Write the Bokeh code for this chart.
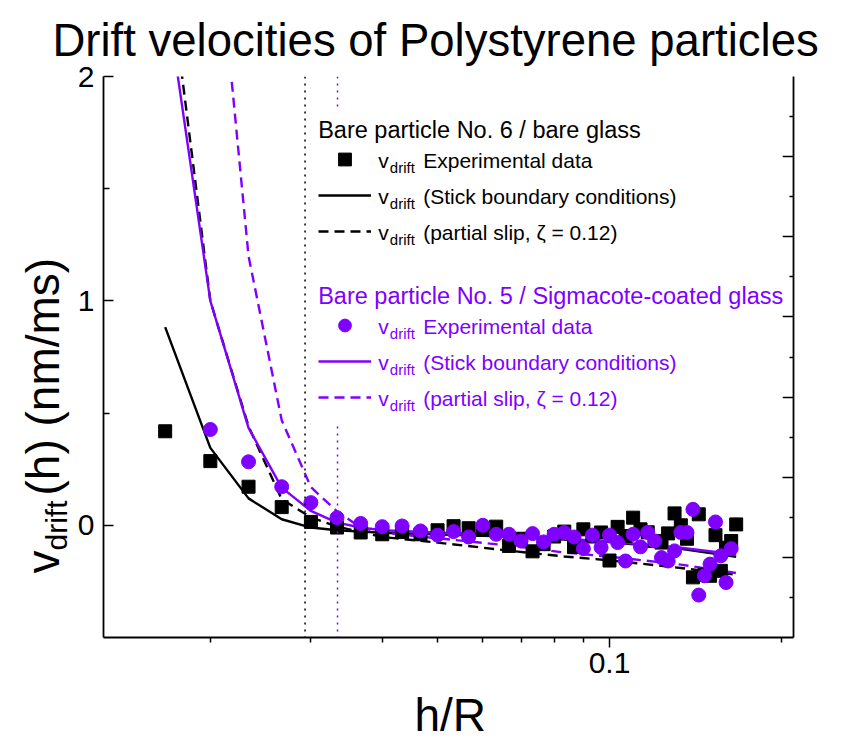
from math import pi, log10
from bokeh.plotting import figure
from bokeh.layouts import column, row
from bokeh.models import (Range1d, LinearAxis, FixedTicker, PrintfTickFormatter, Label,
                          Legend, LegendItem, BoxAnnotation, Span)
from bokeh.embed import file_html
from bokeh.resources import INLINE

FONT = "Liberation Sans"
BLACK = "#000000"
PURPLE = "#8000ff"

# ---------------- data (h/R, drift velocity in nm/ms) ----------------
# Bare particle No. 6 / bare glass : experimental
h_black = [0.01667, 0.02000, 0.02333, 0.02667, 0.03000, 0.03333, 0.03667, 0.04000,
           0.04333, 0.04667, 0.05000, 0.05333, 0.05667, 0.06000, 0.06333, 0.06667,
           0.07000, 0.07333, 0.07667, 0.08000, 0.08333, 0.08667, 0.09000, 0.09333,
           0.09667, 0.10000, 0.10333, 0.10667, 0.11000, 0.11333, 0.11667, 0.12000,
           0.12333, 0.12667, 0.13000, 0.13333, 0.13667, 0.14000, 0.14333, 0.14667,
           0.15000, 0.15333, 0.15667, 0.16000, 0.16333, 0.16667]
v_black = [0.419, 0.286, 0.172, 0.081, 0.015, -0.010, -0.032, -0.040,
           -0.030, -0.040, -0.022, -0.004, -0.013, -0.020, -0.006, -0.092,
           -0.060, -0.116, -0.084, -0.050, -0.028, -0.096, -0.018, -0.050,
           -0.032, -0.157, -0.007, -0.048, 0.034, -0.018, -0.031, -0.070,
           -0.077, -0.036, 0.053, 0.000, -0.060, -0.232, 0.049, -0.220,
           -0.225, -0.044, -0.203, -0.100, -0.070, 0.004]

# Bare particle No. 5 / Sigmacote-coated glass : experimental
h_purple = [0.02000, 0.02333, 0.02667, 0.03000, 0.03333, 0.03667, 0.04000,
            0.04333, 0.04667, 0.05000, 0.05333, 0.05667, 0.06000, 0.06333, 0.06667,
            0.07000, 0.07333, 0.07667, 0.08000, 0.08333, 0.08667, 0.09000, 0.09333,
            0.09667, 0.10000, 0.10333, 0.10667, 0.11000, 0.11333, 0.11667, 0.12000,
            0.12333, 0.12667, 0.13000, 0.13333, 0.13667, 0.14000, 0.14333, 0.14667,
            0.15000, 0.15333, 0.15667, 0.16000, 0.16333]
v_purple = [0.427, 0.283, 0.172, 0.101, 0.034, 0.008, -0.006,
            -0.003, -0.025, -0.044, -0.028, -0.052, 0.000, -0.040, -0.040,
            -0.070, -0.037, -0.074, -0.040, -0.032, -0.052, -0.104, -0.044,
            -0.099, -0.044, -0.077, -0.159, -0.040, -0.096, -0.032, -0.070,
            -0.144, -0.159, -0.114, -0.032, -0.032, 0.071, -0.311, -0.225,
            -0.173, 0.015, -0.136, -0.255, -0.104]

# theory: stick boundary conditions
stick_h_black = [0.01667, 0.02000, 0.02333, 0.02667, 0.03000, 0.03333, 0.03667, 0.04000,
                 0.06667, 0.10000, 0.13333, 0.16667]
stick_v_black = [0.883, 0.345, 0.120, 0.027, -0.010, -0.022, -0.028, -0.033,
                 -0.050, -0.075, -0.105, -0.140]
stick_h_purple = [0.01667, 0.02000, 0.02333, 0.02667, 0.03000, 0.03333, 0.03667, 0.04000,
                  0.06667, 0.10000, 0.13333, 0.16667]
stick_v_purple = [2.390, 1.000, 0.434, 0.168, 0.064, 0.012, -0.010, -0.022,
                  -0.045, -0.072, -0.100, -0.130]

# theory: partial slip, zeta = 0.12
slip_h_black = [0.01667, 0.02000, 0.02333, 0.02667, 0.03000, 0.03333, 0.03667, 0.04000,
                0.05000, 0.06667, 0.08333, 0.10000, 0.13333, 0.16667]
slip_v_black = [2.600, 1.000, 0.441, 0.116, 0.035, -0.005, -0.030, -0.052,
                -0.077, -0.113, -0.139, -0.156, -0.190, -0.220]
slip_h_purple = [0.02000, 0.02333, 0.02667, 0.03000, 0.03333, 0.03667, 0.04000,
                 0.05000, 0.06667, 0.08333, 0.10000, 0.13333, 0.16667]
slip_v_purple = [2.970, 1.200, 0.468, 0.170, 0.062, -0.010, -0.032,
                 -0.058, -0.090, -0.121, -0.140, -0.175, -0.213]

# vertical dotted reference lines
limit_black = 0.0293
limit_purple = 0.0334

x_major = [0.1]
x_minor = [0.02, 0.03, 0.04, 0.05, 0.06, 0.07, 0.08, 0.09, 0.2]
y_major = [0, 1, 2]
y_minor = [0.5, 1.5]
# mirror axes (ticks only): top = log axis 0.639..6.41, right = linear 0..14
top_range = (0.639, 6.41)
top_ticks = [1, 2, 3, 4, 5, 6]
right_range = (0, 14)
right_major = [2, 4, 6, 8, 10, 12]
right_minor = [1, 3, 5, 7, 9, 11, 13]

TITLE = "Drift velocities of Polystyrene particles"
XLABEL = "h/R"

# ---------------- layout (canvas pixels) ----------------
W, H = 849, 738
TOP_H = 66          # title strip (full width)
LEFT_W = 74         # y-label strip
BOT_H = 52          # x-label strip (full width)
FL, FR, FT, FB = 102, 793, 76, 637   # frame edges on the canvas

MAIN_W = W - LEFT_W
MAIN_H = H - TOP_H - BOT_H
BASE_SHIFT = 0.3    # correction of Bokeh's alphabetic baseline placement (in em)


def blank(w, h):
    f = figure(width=w, height=h, x_range=Range1d(0, 1), y_range=Range1d(0, 1),
               toolbar_location=None, output_backend="svg", min_border=0,
               x_axis_location=None, y_axis_location=None)
    f.outline_line_color = None
    f.grid.visible = False
    f.background_fill_color = "white"
    f.border_fill_color = "white"
    return f


p = figure(width=MAIN_W, height=MAIN_H, x_axis_type="log",
           x_range=Range1d(0.013, 0.21), y_range=Range1d(-0.5, 2.0),
           output_backend="svg", toolbar_location=None,
           min_border_left=FL - LEFT_W, min_border_right=W - FR,
           min_border_top=FT - TOP_H, min_border_bottom=(H - BOT_H) - FB)
p.outline_line_color = None
p.grid.visible = False
p.background_fill_color = "white"
p.border_fill_color = "white"

AX_W = 1.8
xa = p.xaxis[0]
xa.ticker = FixedTicker(ticks=x_major, minor_ticks=x_minor)
xa.formatter = PrintfTickFormatter(format="%.1f")
xa.axis_line_width = AX_W
xa.major_tick_line_width = 1.5
xa.minor_tick_line_width = 1.5
xa.major_tick_in = 0
xa.major_tick_out = 10
xa.minor_tick_in = 0
xa.minor_tick_out = 5
xa.major_label_text_font = FONT
xa.major_label_text_font_size = "30px"
xa.major_label_standoff = 5
xa.major_label_text_color = BLACK

ya = p.yaxis[0]
ya.ticker = FixedTicker(ticks=y_major, minor_ticks=y_minor)
ya.axis_line_width = AX_W
ya.major_tick_line_width = 1.5
ya.minor_tick_line_width = 1.5
ya.major_tick_in = 10
ya.major_tick_out = 0
ya.minor_tick_in = 6
ya.minor_tick_out = 0
ya.major_label_text_font = FONT
ya.major_label_text_font_size = "30px"
ya.major_label_standoff = 9
ya.major_label_text_color = BLACK

# top mirror axis: logarithmic, expressed in decades on a linear extra range
p.extra_x_ranges = {"top": Range1d(log10(top_range[0]), log10(top_range[1]))}
p.extra_y_ranges = {"right": Range1d(*right_range)}
top_ax = LinearAxis(x_range_name="top",
                    ticker=FixedTicker(ticks=[log10(t) for t in top_ticks], minor_ticks=[]),
                    major_tick_in=11, major_tick_out=0, minor_tick_in=0, minor_tick_out=0,
                    major_label_text_font_size="1px", major_label_text_color=None,
                    major_label_standoff=0, axis_line_width=AX_W, major_tick_line_width=1.5)
right_ax = LinearAxis(y_range_name="right",
                      ticker=FixedTicker(ticks=right_major, minor_ticks=right_minor),
                      major_tick_in=11, major_tick_out=0, minor_tick_in=4, minor_tick_out=0,
                      major_label_text_font_size="1px", major_label_text_color=None,
                      major_label_standoff=0, axis_line_width=AX_W,
                      major_tick_line_width=1.5, minor_tick_line_width=1.5)
p.add_layout(top_ax, "above")
p.add_layout(right_ax, "right")

# ---------------- glyphs ----------------
r_bs = p.line(stick_h_black, stick_v_black, line_color=BLACK, line_width=2.4)
r_bp = p.line(slip_h_black, slip_v_black, line_color=BLACK, line_width=2.4, line_dash="10 6")
r_ps = p.line(stick_h_purple, stick_v_purple, line_color=PURPLE, line_width=2.4)
r_pp = p.line(slip_h_purple, slip_v_purple, line_color=PURPLE, line_width=2.4, line_dash="10 6")
r_bsq = p.scatter(h_black, v_black, marker="square", size=13, fill_color=BLACK, line_color=BLACK)
r_pci = p.scatter(h_purple, v_purple, marker="circle", size=14, fill_color=PURPLE, line_color=PURPLE)

p.add_layout(Span(location=limit_black, dimension="height", line_color=BLACK,
                  line_width=1.5, line_dash="2 5"))
p.add_layout(Span(location=limit_purple, dimension="height", line_color=PURPLE,
                  line_width=1.5, line_dash="2 5"))


def sx(X):
    return X - FL


def sy(Y):
    return FB - Y


p.add_layout(BoxAnnotation(left=sx(310), right=sx(781), top=sy(110), bottom=sy(422),
                           left_units="screen", right_units="screen",
                           top_units="screen", bottom_units="screen",
                           fill_color="white", fill_alpha=1.0, line_color=None))


def make_legend(rs, first_center):
    gh, sp = 32, 4
    n = len(rs)
    bottom = first_center - gh / 2 + n * gh + (n - 1) * sp
    return Legend(items=[LegendItem(label=" ", renderers=[r]) for r in rs],
                  location=(sx(316.7), sy(bottom)), orientation="vertical",
                  glyph_width=53, glyph_height=gh, spacing=sp, padding=0, margin=0,
                  label_width=0, label_height=gh, label_standoff=0,
                  label_text_font_size="1px",
                  border_line_color=None, background_fill_alpha=0.0)


p.add_layout(make_legend([r_bsq, r_bs, r_bp], 159.3))
p.add_layout(make_legend([r_pci, r_ps, r_pp], 325.0))


def text(fig, t, x, y, size, color=BLACK, angle=0.0):
    # x, y: wanted start / baseline position, frame-relative (y upwards)
    if angle == 0.0:
        y = y + BASE_SHIFT * size
    else:
        x = x - BASE_SHIFT * size
    fig.add_layout(Label(x=x, y=y, x_units="screen", y_units="screen", text=t,
                         text_font=FONT, text_font_size=f"{size}px", text_color=color,
                         text_align="left", text_baseline="alphabetic", angle=angle))


def ptext(t, X, Y, size, color=BLACK):
    text(p, t, sx(X), sy(Y), size, color)


def vdrift_row(rest, base_y, color):
    ptext("v", 376.7, base_y, 21, color)
    ptext("drift", 388.3, base_y + 5.5, 15, color)
    ptext(rest, 421.7, base_y, 21, color)


ptext("Bare particle No. 6 / bare glass", 316.7, 136.7, 23.5, BLACK)
vdrift_row("Experimental data", 166.3, BLACK)
vdrift_row("(Stick boundary conditions)", 202.3, BLACK)
vdrift_row("(partial slip, \u03b6 = 0.12)", 238.3, BLACK)

ptext("Bare particle No. 5 / Sigmacote-coated glass", 316.7, 302.7, 23.5, PURPLE)
vdrift_row("Experimental data", 332.0, PURPLE)
vdrift_row("(Stick boundary conditions)", 368.0, PURPLE)
vdrift_row("(partial slip, \u03b6 = 0.12)", 404.0, PURPLE)

# ---------------- title / axis-title strips ----------------
title_fig = blank(W, TOP_H)
text(title_fig, TITLE, 52, TOP_H - 53.5, 45.5)

ylab_fig = blank(LEFT_W, MAIN_H)
YB = H - BOT_H  # canvas y of this strip's bottom
text(ylab_fig, "v", 56, YB - 622, 46, angle=pi / 2)
text(ylab_fig, "drift", 65, YB - 599, 30, angle=pi / 2)
text(ylab_fig, " (h) (nm/ms)", 56, YB - 544, 46, angle=pi / 2)

xlab_fig = blank(W, BOT_H)
text(xlab_fig, XLABEL, 414, H - 728, 46)

layout = column(title_fig, row(ylab_fig, p), xlab_fig)

open("out.html", "w").write(file_html(layout, INLINE))
